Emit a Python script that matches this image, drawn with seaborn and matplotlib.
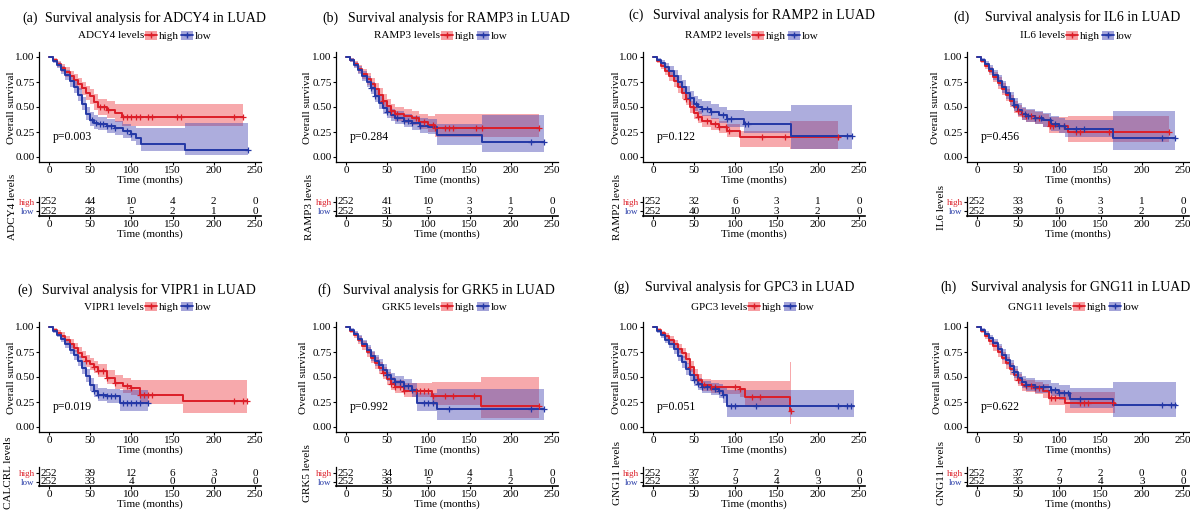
import numpy as np
import matplotlib
matplotlib.use("Agg")
import matplotlib.pyplot as plt
import seaborn as sns
from matplotlib.patches import Patch
from matplotlib.lines import Line2D

# ---------------- data ----------------
genes = ["ADCY4", "RAMP3", "RAMP2", "IL6", "VIPR1", "GRK5", "GPC3", "GNG11"]
panel_letters = ["(a)", "(b)", "(c)", "(d)", "(e)", "(f)", "(g)", "(h)"]
risk_labels = ["ADCY4 levels", "RAMP3 levels", "RAMP2 levels", "IL6 levels",
               "CALCRL levels", "GRK5 levels", "GNG11 levels", "GNG11 levels"]
pvalues = ["p=0.003", "p=0.284", "p=0.122", "p=0.456",
           "p=0.019", "p=0.992", "p=0.051", "p=0.622"]
risk_times = [0, 50, 100, 150, 200, 250]

# (a) ADCY4
ADCY4_high_t = [0, 5, 10, 15, 20, 25, 30, 35, 40, 45, 50, 55, 60, 70, 80, 88, 235]
ADCY4_high_s = [1, 0.97, 0.93, 0.89, 0.85, 0.81, 0.77, 0.73, 0.69, 0.64, 0.61, 0.55, 0.50, 0.47, 0.44, 0.40, 0.40]
ADCY4_high_lo = [1, 0.95, 0.90, 0.85, 0.80, 0.76, 0.71, 0.67, 0.62, 0.57, 0.53, 0.47, 0.42, 0.39, 0.35, 0.31, 0.31]
ADCY4_high_hi = [1, 0.99, 0.96, 0.93, 0.90, 0.86, 0.83, 0.79, 0.75, 0.71, 0.68, 0.63, 0.58, 0.56, 0.53, 0.53, 0.53]
ADCY4_high_cens = [62, 67, 72, 90, 95, 100, 105, 110, 120, 125, 155, 160, 225, 235]
ADCY4_low_t = [0, 5, 10, 15, 20, 25, 30, 35, 40, 45, 50, 55, 60, 70, 80, 90, 100, 106, 112, 165, 242]
ADCY4_low_s = [1, 0.96, 0.92, 0.87, 0.82, 0.76, 0.70, 0.62, 0.53, 0.43, 0.37, 0.34, 0.33, 0.31, 0.29, 0.26, 0.23, 0.19, 0.13, 0.07, 0.07]
ADCY4_low_lo = [1, 0.94, 0.89, 0.83, 0.77, 0.70, 0.64, 0.56, 0.47, 0.37, 0.31, 0.28, 0.27, 0.24, 0.22, 0.19, 0.16, 0.12, 0.06, 0.02, 0.02]
ADCY4_low_hi = [1, 0.98, 0.95, 0.91, 0.87, 0.82, 0.76, 0.69, 0.60, 0.50, 0.45, 0.42, 0.40, 0.38, 0.36, 0.33, 0.31, 0.29, 0.29, 0.34, 0.34]
ADCY4_low_cens = [52, 57, 62, 66, 70, 75, 80, 95, 100, 242]
ADCY4_risk_high = [252, 44, 10, 4, 2, 0]
ADCY4_risk_low = [252, 28, 5, 2, 1, 0]

# (b) RAMP3
RAMP3_high_t = [0, 5, 10, 15, 20, 25, 30, 35, 40, 45, 50, 55, 60, 70, 80, 88, 100, 108, 234]
RAMP3_high_s = [1, 0.97, 0.93, 0.88, 0.83, 0.78, 0.73, 0.68, 0.62, 0.56, 0.51, 0.46, 0.43, 0.41, 0.39, 0.35, 0.32, 0.29, 0.29]
RAMP3_high_lo = [1, 0.95, 0.90, 0.84, 0.78, 0.72, 0.67, 0.61, 0.55, 0.49, 0.44, 0.39, 0.36, 0.34, 0.32, 0.28, 0.25, 0.20, 0.20]
RAMP3_high_hi = [1, 0.99, 0.96, 0.92, 0.88, 0.84, 0.79, 0.74, 0.69, 0.63, 0.58, 0.53, 0.50, 0.48, 0.46, 0.43, 0.41, 0.43, 0.43]
RAMP3_high_cens = [45, 55, 62, 85, 95, 105, 108, 120, 125, 130, 158, 165, 234]
RAMP3_low_t = [0, 5, 10, 15, 20, 25, 30, 35, 40, 45, 50, 55, 60, 70, 80, 90, 100, 110, 165, 240]
RAMP3_low_s = [1, 0.97, 0.92, 0.87, 0.81, 0.75, 0.69, 0.61, 0.54, 0.49, 0.45, 0.42, 0.39, 0.36, 0.34, 0.31, 0.30, 0.22, 0.15, 0.15]
RAMP3_low_lo = [1, 0.95, 0.89, 0.83, 0.76, 0.70, 0.63, 0.55, 0.48, 0.43, 0.39, 0.36, 0.33, 0.30, 0.27, 0.24, 0.23, 0.12, 0.05, 0.05]
RAMP3_low_hi = [1, 0.99, 0.95, 0.91, 0.86, 0.81, 0.75, 0.68, 0.61, 0.56, 0.51, 0.48, 0.46, 0.43, 0.41, 0.39, 0.38, 0.33, 0.42, 0.42]
RAMP3_low_cens = [30, 35, 50, 62, 70, 75, 80, 90, 225, 240]
RAMP3_risk_high = [252, 41, 10, 3, 1, 0]
RAMP3_risk_low = [252, 31, 5, 3, 2, 0]

# (c) RAMP2
RAMP2_high_t = [0, 5, 10, 15, 20, 25, 30, 35, 40, 45, 50, 55, 60, 70, 80, 90, 106, 166, 224]
RAMP2_high_s = [1, 0.96, 0.91, 0.86, 0.81, 0.76, 0.70, 0.64, 0.58, 0.50, 0.44, 0.40, 0.36, 0.33, 0.30, 0.26, 0.20, 0.20, 0.20]
RAMP2_high_lo = [1, 0.94, 0.88, 0.82, 0.76, 0.70, 0.64, 0.58, 0.52, 0.44, 0.38, 0.34, 0.30, 0.27, 0.24, 0.20, 0.10, 0.08, 0.08]
RAMP2_high_hi = [1, 0.98, 0.94, 0.90, 0.86, 0.81, 0.76, 0.70, 0.64, 0.56, 0.50, 0.46, 0.42, 0.39, 0.36, 0.33, 0.26, 0.36, 0.36]
RAMP2_high_cens = [40, 48, 55, 65, 75, 80, 88, 92, 132, 160, 224]
RAMP2_low_t = [0, 5, 10, 15, 20, 25, 30, 35, 40, 45, 50, 55, 60, 70, 80, 90, 110, 167, 242]
RAMP2_low_s = [1, 0.97, 0.94, 0.90, 0.86, 0.81, 0.75, 0.70, 0.64, 0.59, 0.53, 0.50, 0.48, 0.45, 0.42, 0.38, 0.33, 0.21, 0.21]
RAMP2_low_lo = [1, 0.95, 0.91, 0.86, 0.81, 0.75, 0.69, 0.64, 0.58, 0.52, 0.46, 0.43, 0.41, 0.38, 0.34, 0.30, 0.24, 0.08, 0.08]
RAMP2_low_hi = [1, 0.99, 0.97, 0.94, 0.91, 0.87, 0.82, 0.77, 0.71, 0.66, 0.61, 0.58, 0.56, 0.53, 0.50, 0.47, 0.46, 0.52, 0.52]
RAMP2_low_cens = [45, 52, 60, 65, 70, 85, 90, 95, 112, 115, 235, 242]
RAMP2_risk_high = [252, 32, 6, 3, 1, 0]
RAMP2_risk_low = [252, 40, 10, 3, 2, 0]

# (d) IL6
IL6_high_t = [0, 5, 10, 15, 20, 25, 30, 35, 40, 45, 50, 55, 60, 70, 80, 87, 110, 233]
IL6_high_s = [1, 0.96, 0.91, 0.86, 0.80, 0.74, 0.68, 0.62, 0.56, 0.50, 0.46, 0.43, 0.41, 0.39, 0.37, 0.31, 0.25, 0.25]
IL6_high_lo = [1, 0.94, 0.88, 0.82, 0.75, 0.68, 0.62, 0.56, 0.50, 0.44, 0.40, 0.37, 0.35, 0.33, 0.30, 0.24, 0.15, 0.15]
IL6_high_hi = [1, 0.98, 0.94, 0.90, 0.85, 0.80, 0.74, 0.68, 0.62, 0.56, 0.52, 0.49, 0.47, 0.45, 0.43, 0.40, 0.41, 0.41]
IL6_high_cens = [50, 55, 60, 65, 70, 75, 88, 92, 105, 120, 125, 160, 233]
IL6_low_t = [0, 5, 10, 15, 20, 25, 30, 35, 40, 45, 50, 55, 60, 70, 80, 90, 100, 107, 165, 240]
IL6_low_s = [1, 0.97, 0.93, 0.88, 0.82, 0.76, 0.70, 0.64, 0.58, 0.52, 0.47, 0.43, 0.41, 0.39, 0.37, 0.33, 0.31, 0.28, 0.19, 0.19]
IL6_low_lo = [1, 0.95, 0.90, 0.84, 0.77, 0.71, 0.64, 0.58, 0.52, 0.46, 0.41, 0.37, 0.35, 0.33, 0.30, 0.26, 0.24, 0.20, 0.07, 0.07]
IL6_low_hi = [1, 0.99, 0.96, 0.92, 0.87, 0.82, 0.76, 0.71, 0.65, 0.59, 0.54, 0.50, 0.48, 0.46, 0.44, 0.41, 0.39, 0.37, 0.46, 0.46]
IL6_low_cens = [45, 58, 62, 70, 78, 88, 95, 100, 105, 120, 130, 225, 240]
IL6_risk_high = [252, 33, 6, 3, 1, 0]
IL6_risk_low = [252, 39, 10, 3, 2, 0]

# (e) VIPR1
VIPR1_high_t = [0, 5, 10, 15, 20, 25, 30, 35, 40, 45, 50, 55, 60, 70, 80, 90, 100, 110, 163, 240]
VIPR1_high_s = [1, 0.97, 0.94, 0.91, 0.87, 0.83, 0.79, 0.74, 0.70, 0.66, 0.63, 0.60, 0.56, 0.49, 0.44, 0.41, 0.39, 0.32, 0.26, 0.26]
VIPR1_high_lo = [1, 0.95, 0.92, 0.88, 0.84, 0.79, 0.75, 0.69, 0.65, 0.60, 0.57, 0.54, 0.50, 0.43, 0.38, 0.34, 0.32, 0.23, 0.14, 0.14]
VIPR1_high_hi = [1, 0.99, 0.97, 0.95, 0.91, 0.88, 0.84, 0.80, 0.76, 0.72, 0.69, 0.66, 0.63, 0.57, 0.52, 0.49, 0.47, 0.47, 0.47, 0.47]
VIPR1_high_cens = [45, 55, 60, 65, 70, 80, 95, 100, 110, 115, 120, 125, 225, 235, 240]
VIPR1_low_t = [0, 5, 10, 15, 20, 25, 30, 35, 40, 45, 50, 55, 60, 70, 86, 120]
VIPR1_low_s = [1, 0.96, 0.92, 0.88, 0.83, 0.77, 0.72, 0.66, 0.59, 0.51, 0.42, 0.36, 0.32, 0.31, 0.24, 0.24]
VIPR1_low_lo = [1, 0.94, 0.90, 0.85, 0.79, 0.73, 0.67, 0.61, 0.53, 0.45, 0.36, 0.30, 0.26, 0.24, 0.16, 0.16]
VIPR1_low_hi = [1, 0.98, 0.95, 0.92, 0.87, 0.82, 0.77, 0.71, 0.65, 0.58, 0.49, 0.43, 0.39, 0.38, 0.37, 0.37]
VIPR1_low_cens = [55, 60, 65, 70, 75, 80, 90, 95, 100, 105, 110, 120]
VIPR1_risk_high = [252, 39, 12, 6, 3, 0]
VIPR1_risk_low = [252, 33, 4, 0, 0, 0]

# (f) GRK5
GRK5_high_t = [0, 5, 10, 15, 20, 25, 30, 35, 40, 45, 50, 55, 60, 70, 104, 164, 234]
GRK5_high_s = [1, 0.96, 0.92, 0.87, 0.81, 0.75, 0.69, 0.64, 0.59, 0.54, 0.48, 0.43, 0.40, 0.36, 0.31, 0.21, 0.21]
GRK5_high_lo = [1, 0.94, 0.89, 0.83, 0.77, 0.70, 0.64, 0.58, 0.53, 0.48, 0.42, 0.37, 0.34, 0.30, 0.22, 0.09, 0.09]
GRK5_high_hi = [1, 0.98, 0.95, 0.91, 0.86, 0.80, 0.75, 0.70, 0.65, 0.60, 0.55, 0.50, 0.47, 0.44, 0.45, 0.50, 0.50]
GRK5_high_cens = [45, 55, 60, 65, 70, 85, 90, 95, 100, 105, 120, 130, 155, 234]
GRK5_low_t = [0, 5, 10, 15, 20, 25, 30, 35, 40, 45, 50, 55, 60, 70, 80, 86, 110, 240]
GRK5_low_s = [1, 0.97, 0.93, 0.88, 0.83, 0.77, 0.71, 0.66, 0.62, 0.57, 0.52, 0.48, 0.45, 0.41, 0.37, 0.24, 0.18, 0.18]
GRK5_low_lo = [1, 0.95, 0.91, 0.85, 0.80, 0.73, 0.66, 0.61, 0.56, 0.51, 0.46, 0.42, 0.39, 0.35, 0.30, 0.16, 0.07, 0.07]
GRK5_low_hi = [1, 0.99, 0.96, 0.92, 0.87, 0.82, 0.76, 0.72, 0.68, 0.63, 0.58, 0.54, 0.51, 0.48, 0.44, 0.34, 0.38, 0.38]
GRK5_low_cens = [50, 60, 65, 70, 75, 80, 95, 100, 105, 125, 225, 240]
GRK5_risk_high = [252, 34, 10, 4, 1, 0]
GRK5_risk_low = [252, 38, 5, 2, 2, 0]

# (g) GPC3
GPC3_high_t = [0, 5, 10, 15, 20, 25, 30, 35, 40, 45, 50, 55, 60, 70, 80, 90, 105, 112, 166, 168]
GPC3_high_s = [1, 0.97, 0.94, 0.91, 0.87, 0.83, 0.78, 0.74, 0.68, 0.60, 0.52, 0.47, 0.42, 0.40, 0.40, 0.40, 0.38, 0.30, 0.16, 0.16]
GPC3_high_lo = [1, 0.95, 0.92, 0.88, 0.84, 0.79, 0.74, 0.69, 0.63, 0.55, 0.46, 0.41, 0.36, 0.34, 0.33, 0.33, 0.30, 0.21, 0.03, 0.03]
GPC3_high_hi = [1, 0.99, 0.96, 0.94, 0.91, 0.87, 0.83, 0.79, 0.74, 0.66, 0.58, 0.53, 0.48, 0.47, 0.47, 0.47, 0.46, 0.46, 0.65, 0.65]
GPC3_high_cens = [45, 55, 62, 70, 75, 100, 105, 120, 130, 168]
GPC3_low_t = [0, 5, 10, 15, 20, 25, 30, 35, 40, 45, 50, 55, 60, 70, 80, 85, 90, 244]
GPC3_low_s = [1, 0.96, 0.92, 0.87, 0.83, 0.78, 0.71, 0.65, 0.58, 0.52, 0.47, 0.43, 0.40, 0.38, 0.36, 0.32, 0.21, 0.21]
GPC3_low_lo = [1, 0.94, 0.89, 0.84, 0.79, 0.73, 0.66, 0.59, 0.52, 0.46, 0.41, 0.37, 0.34, 0.32, 0.29, 0.24, 0.10, 0.10]
GPC3_low_hi = [1, 0.98, 0.95, 0.91, 0.87, 0.83, 0.77, 0.71, 0.64, 0.58, 0.53, 0.49, 0.46, 0.44, 0.43, 0.40, 0.37, 0.37]
GPC3_low_cens = [50, 55, 60, 65, 75, 80, 85, 95, 100, 125, 225, 235, 240]
GPC3_risk_high = [252, 37, 7, 2, 0, 0]
GPC3_risk_low = [252, 35, 9, 4, 3, 0]

# (h) GNG11
GNG11_high_t = [0, 5, 10, 15, 20, 25, 30, 35, 40, 45, 50, 55, 60, 70, 80, 87, 107, 168]
GNG11_high_s = [1, 0.96, 0.91, 0.86, 0.81, 0.75, 0.69, 0.64, 0.58, 0.52, 0.47, 0.42, 0.41, 0.39, 0.36, 0.29, 0.24, 0.24]
GNG11_high_lo = [1, 0.94, 0.88, 0.82, 0.76, 0.70, 0.63, 0.58, 0.52, 0.46, 0.41, 0.36, 0.35, 0.33, 0.29, 0.22, 0.14, 0.14]
GNG11_high_hi = [1, 0.98, 0.94, 0.90, 0.86, 0.81, 0.75, 0.70, 0.64, 0.58, 0.53, 0.48, 0.47, 0.45, 0.43, 0.37, 0.35, 0.35]
GNG11_high_cens = [50, 60, 65, 70, 75, 90, 95, 125, 130, 135, 165]
GNG11_low_t = [0, 5, 10, 15, 20, 25, 30, 35, 40, 45, 50, 55, 60, 70, 90, 100, 113, 165, 242]
GNG11_low_s = [1, 0.97, 0.93, 0.89, 0.84, 0.78, 0.72, 0.67, 0.61, 0.55, 0.49, 0.45, 0.42, 0.40, 0.37, 0.34, 0.28, 0.22, 0.22]
GNG11_low_lo = [1, 0.95, 0.91, 0.86, 0.80, 0.74, 0.67, 0.62, 0.56, 0.49, 0.43, 0.39, 0.36, 0.34, 0.31, 0.27, 0.19, 0.10, 0.10]
GNG11_low_hi = [1, 0.99, 0.96, 0.92, 0.88, 0.83, 0.78, 0.73, 0.67, 0.61, 0.55, 0.51, 0.49, 0.47, 0.44, 0.42, 0.39, 0.45, 0.45]
GNG11_low_cens = [45, 60, 70, 80, 90, 95, 100, 105, 110, 125, 225, 235, 240]
GNG11_risk_high = [252, 37, 7, 2, 0, 0]
GNG11_risk_low = [252, 35, 9, 4, 3, 0]

curves = [
    ((ADCY4_high_t, ADCY4_high_s, ADCY4_high_lo, ADCY4_high_hi, ADCY4_high_cens),
     (ADCY4_low_t, ADCY4_low_s, ADCY4_low_lo, ADCY4_low_hi, ADCY4_low_cens),
     ADCY4_risk_high, ADCY4_risk_low),
    ((RAMP3_high_t, RAMP3_high_s, RAMP3_high_lo, RAMP3_high_hi, RAMP3_high_cens),
     (RAMP3_low_t, RAMP3_low_s, RAMP3_low_lo, RAMP3_low_hi, RAMP3_low_cens),
     RAMP3_risk_high, RAMP3_risk_low),
    ((RAMP2_high_t, RAMP2_high_s, RAMP2_high_lo, RAMP2_high_hi, RAMP2_high_cens),
     (RAMP2_low_t, RAMP2_low_s, RAMP2_low_lo, RAMP2_low_hi, RAMP2_low_cens),
     RAMP2_risk_high, RAMP2_risk_low),
    ((IL6_high_t, IL6_high_s, IL6_high_lo, IL6_high_hi, IL6_high_cens),
     (IL6_low_t, IL6_low_s, IL6_low_lo, IL6_low_hi, IL6_low_cens),
     IL6_risk_high, IL6_risk_low),
    ((VIPR1_high_t, VIPR1_high_s, VIPR1_high_lo, VIPR1_high_hi, VIPR1_high_cens),
     (VIPR1_low_t, VIPR1_low_s, VIPR1_low_lo, VIPR1_low_hi, VIPR1_low_cens),
     VIPR1_risk_high, VIPR1_risk_low),
    ((GRK5_high_t, GRK5_high_s, GRK5_high_lo, GRK5_high_hi, GRK5_high_cens),
     (GRK5_low_t, GRK5_low_s, GRK5_low_lo, GRK5_low_hi, GRK5_low_cens),
     GRK5_risk_high, GRK5_risk_low),
    ((GPC3_high_t, GPC3_high_s, GPC3_high_lo, GPC3_high_hi, GPC3_high_cens),
     (GPC3_low_t, GPC3_low_s, GPC3_low_lo, GPC3_low_hi, GPC3_low_cens),
     GPC3_risk_high, GPC3_risk_low),
    ((GNG11_high_t, GNG11_high_s, GNG11_high_lo, GNG11_high_hi, GNG11_high_cens),
     (GNG11_low_t, GNG11_low_s, GNG11_low_lo, GNG11_low_hi, GNG11_low_cens),
     GNG11_risk_high, GNG11_risk_low),
]

# ---------------- style ----------------
sns.set_theme(style="ticks", rc={
    "axes.edgecolor": "black", "axes.linewidth": 0.9,
    "xtick.color": "black", "ytick.color": "black",
    "text.color": "black", "axes.labelcolor": "black",
    "xtick.major.size": 2.5, "ytick.major.size": 2.5,
    "xtick.major.width": 0.8, "ytick.major.width": 0.8,
    "xtick.major.pad": 0.5, "ytick.major.pad": 0.5,
})
plt.rcParams['font.family'] = ['Liberation Serif', 'DejaVu Serif']

RED = "#DC1E28"
BLUE = "#2438A6"
RED_FILL = "#EE4048"
BLUE_FILL = "#4A4AB4"
FILL_ALPHA = 0.45
FS = 8  # tick / axis label size

W, H = 1190, 512
fig = plt.figure(figsize=(W / 100, H / 100), dpi=100)


def px_rect(l, t, r, b):
    return [l / W, 1 - b / H, (r - l) / W, (b - t) / H]


def fx(x):
    return x / W


def fy(y):
    return 1 - y / H


XLIM = (-12.25, 257.25)
PXM = 0.824
col_x0 = [49, 346, 653, 977]
row_geo = [
    dict(km=(52, 162), risk=(197, 216), rh=202, rl=211, leg=36, risk_lab=207),
    dict(km=(322, 432), risk=(467, 486), rh=473, rl=482, leg=307, risk_lab=473),
]
title_y = [18, 18, 15, 17, 290, 290, 287, 287]
title_x = [45, 348, 653, 985, 42, 343, 645, 971]
letter_x = [22, 322, 628, 953, 17, 317, 613, 940]
leg_right = [144, 440, 751, 1065, 144, 440, 747, 1072]
ylab_x = [12, 307, 616, 936, 12, 304, 616, 938]
rlab_x = [13, 309, 617, 941, 9, 307, 617, 941]


def step_val(t, s, x):
    i = np.searchsorted(np.asarray(t), x, side="right") - 1
    return np.asarray(s)[i]


for k in range(8):
    r, c = divmod(k, 4)
    g = row_geo[r]
    x0 = col_x0[c]
    left = x0 + XLIM[0] * PXM
    right = x0 + XLIM[1] * PXM
    high, low, rk_high, rk_low = curves[k]

    # ---- KM plot ----
    ax = fig.add_axes(px_rect(left, g["km"][0], right, g["km"][1]))
    for (t, s, lo, hi, cens), fcol in [(high, RED_FILL), (low, BLUE_FILL)]:
        ax.fill_between(t, lo, hi, step="post", color=fcol, alpha=FILL_ALPHA, lw=0)
    for (t, s, lo, hi, cens), col in [(high, RED), (low, BLUE)]:
        sns.lineplot(x=t, y=s, drawstyle="steps-post", color=col, lw=1.4,
                     estimator=None, sort=False, ax=ax)
        cy = [step_val(t, s, cc) for cc in cens]
        sns.scatterplot(x=cens, y=cy, marker="+", s=24, color=col,
                        linewidth=0.9, ax=ax, zorder=4)
    ax.set_xlim(*XLIM)
    ax.set_ylim(-0.05, 1.05)
    ax.set_xticks(risk_times)
    ax.set_yticks([0, 0.25, 0.5, 0.75, 1.0])
    ax.set_yticklabels(["0.00", "0.25", "0.50", "0.75", "1.00"])
    ax.tick_params(labelsize=FS)
    ax.set_xlabel("Time (months)", fontsize=FS, labelpad=0)
    ax.set_ylabel("")
    sns.despine(ax=ax)
    ax.text(5, 0.2, pvalues[k], fontsize=8.5, va="center", ha="left")
    fig.text(fx(ylab_x[k]), fy((g["km"][0] + g["km"][1]) / 2 + 1), "Overall survival",
             rotation=90, ha="center", va="center", fontsize=FS)

    # ---- titles ----
    fig.text(fx(letter_x[k]), fy(title_y[k]), panel_letters[k], fontsize=10,
             ha="left", va="center")
    fig.text(fx(title_x[k]), fy(title_y[k]), f"Survival analysis for {genes[k]} in LUAD",
             fontsize=10, ha="left", va="center")

    # ---- legend ----
    fig.text(fx(leg_right[k]), fy(g["leg"]), f"{genes[k]} levels", fontsize=8,
             ha="right", va="center")
    handles = [
        (Patch(facecolor=RED_FILL, alpha=FILL_ALPHA + 0.05, lw=0),
         Line2D([], [], color=RED, lw=1.3, marker="+", markersize=4)),
        (Patch(facecolor=BLUE_FILL, alpha=FILL_ALPHA + 0.05, lw=0),
         Line2D([], [], color=BLUE, lw=1.3, marker="+", markersize=4)),
    ]
    fig.legend(handles, ["high", "low"], loc="center left",
               bbox_to_anchor=(fx(leg_right[k] + 1), fy(g["leg"])),
               ncol=2, frameon=False, fontsize=8, handlelength=1.1,
               handleheight=0.9, handletextpad=0.15, columnspacing=0.2,
               borderpad=0, borderaxespad=0)

    # ---- risk table ----
    rax = fig.add_axes(px_rect(left, g["risk"][0], right, g["risk"][1]))
    unit = g["rl"] - g["rh"]
    ymin = 1 - (g["risk"][1] - g["rl"]) / unit
    ymax = 2 + (g["rh"] - g["risk"][0]) / unit
    rax.set_xlim(*XLIM)
    rax.set_ylim(ymin, ymax)
    for tt, nh, nl in zip(risk_times, rk_high, rk_low):
        rax.text(tt, 2, str(nh), ha="center", va="center", fontsize=8)
        rax.text(tt, 1, str(nl), ha="center", va="center", fontsize=8)
    rax.set_xticks(risk_times)
    rax.set_yticks([2, 1])
    rax.set_yticklabels(["high", "low"], fontsize=6.5)
    rax.get_yticklabels()[0].set_color(RED)
    rax.get_yticklabels()[1].set_color(BLUE)
    rax.tick_params(axis="x", labelsize=FS)
    rax.set_xlabel("Time (months)", fontsize=FS, labelpad=0)
    for sp in ["top", "right"]:
        rax.spines[sp].set_visible(False)
    rax.spines["bottom"].set_linewidth(1.2)
    fig.text(fx(rlab_x[k]), fy(g["risk_lab"]), risk_labels[k], rotation=90,
             ha="center", va="center", fontsize=FS)

fig.savefig("out.png", dpi=100)
